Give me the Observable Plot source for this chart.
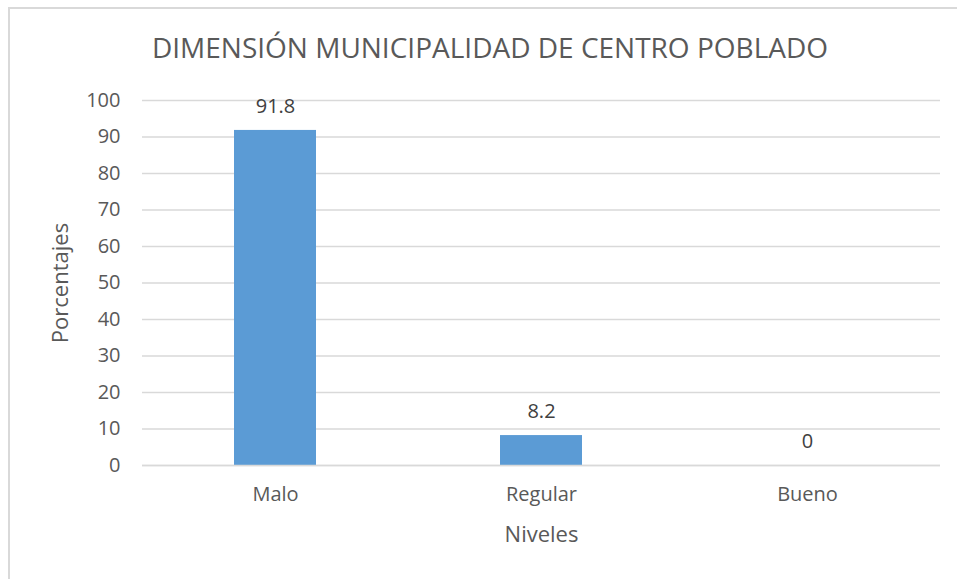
<!DOCTYPE html>
<html>
<head>
<meta charset="utf-8">
<script src="https://cdn.jsdelivr.net/npm/d3@7"></script>
<script src="https://cdn.jsdelivr.net/npm/@observablehq/plot@0.6"></script>
<style>
  html, body { margin: 0; padding: 0; background: #fff; }
  #wrap { position: relative; width: 957px; height: 579px; overflow: hidden; font-family: "Open Sans", sans-serif; }
  #frame { position: absolute; left: 8px; top: 7px; width: 1000px; height: 1000px; border-left: 2px solid #d9d9d9; border-top: 2px solid #d9d9d9; box-sizing: border-box; }
  #title { position: absolute; left: 0; width: 980px; top: 27px; text-align: center; font-size: 28px; color: #595959; line-height: 40px; }
  #chart { position: absolute; left: 0; top: 0; }
</style>
</head>
<body>
<div id="wrap">
  <div id="frame"></div>
  <div id="title">DIMENSIÓN MUNICIPALIDAD DE CENTRO POBLADO</div>
  <div id="chart"></div>
</div>
<script>
const categories = ["Malo", "Regular", "Bueno"];
const values = [91.8, 8.2, 0];
const yTicks = [0, 10, 20, 30, 40, 50, 60, 70, 80, 90, 100];
const xLabel = "Niveles";
const yLabel = "Porcentajes";

const data = categories.map((c, i) => ({nivel: c, valor: values[i]}));

const chart = Plot.plot({
  width: 957,
  height: 579,
  marginLeft: 142,
  marginRight: 17,
  marginTop: 100,
  marginBottom: 114,
  style: {fontFamily: "Open Sans, sans-serif", fontSize: "20px", color: "#595959", background: "transparent"},
  x: {domain: categories, paddingInner: 0.69, paddingOuter: 0.345, label: null},
  y: {domain: [0, 100], label: null},
  marks: [
    Plot.gridY(yTicks, {stroke: "#d9d9d9", strokeOpacity: 1, strokeWidth: 1.3}),
    Plot.barY(data, {x: "nivel", y: "valor", fill: "#5b9bd5"}),
    Plot.ruleY([0], {stroke: "#d9d9d9", strokeWidth: 1.3}),
    Plot.axisY(yTicks, {tickSize: 0, tickPadding: 22, fill: "#595959", fontSize: 20, label: null}),
    Plot.axisX({tickSize: 0, tickPadding: 21, fill: "#595959", fontSize: 20, label: null}),
    Plot.text(data, {x: "nivel", y: "valor", text: d => String(d.valor), dy: -24, fill: "#404040", fontSize: 20}),
    Plot.text([xLabel], {frameAnchor: "bottom", dy: 76, fill: "#595959", fontSize: 22}),
    Plot.text([yLabel], {frameAnchor: "left", dx: -82, rotate: -90, textAnchor: "middle", fill: "#595959", fontSize: 22})
  ]
});
document.getElementById("chart").appendChild(chart);
</script>
</body>
</html>
